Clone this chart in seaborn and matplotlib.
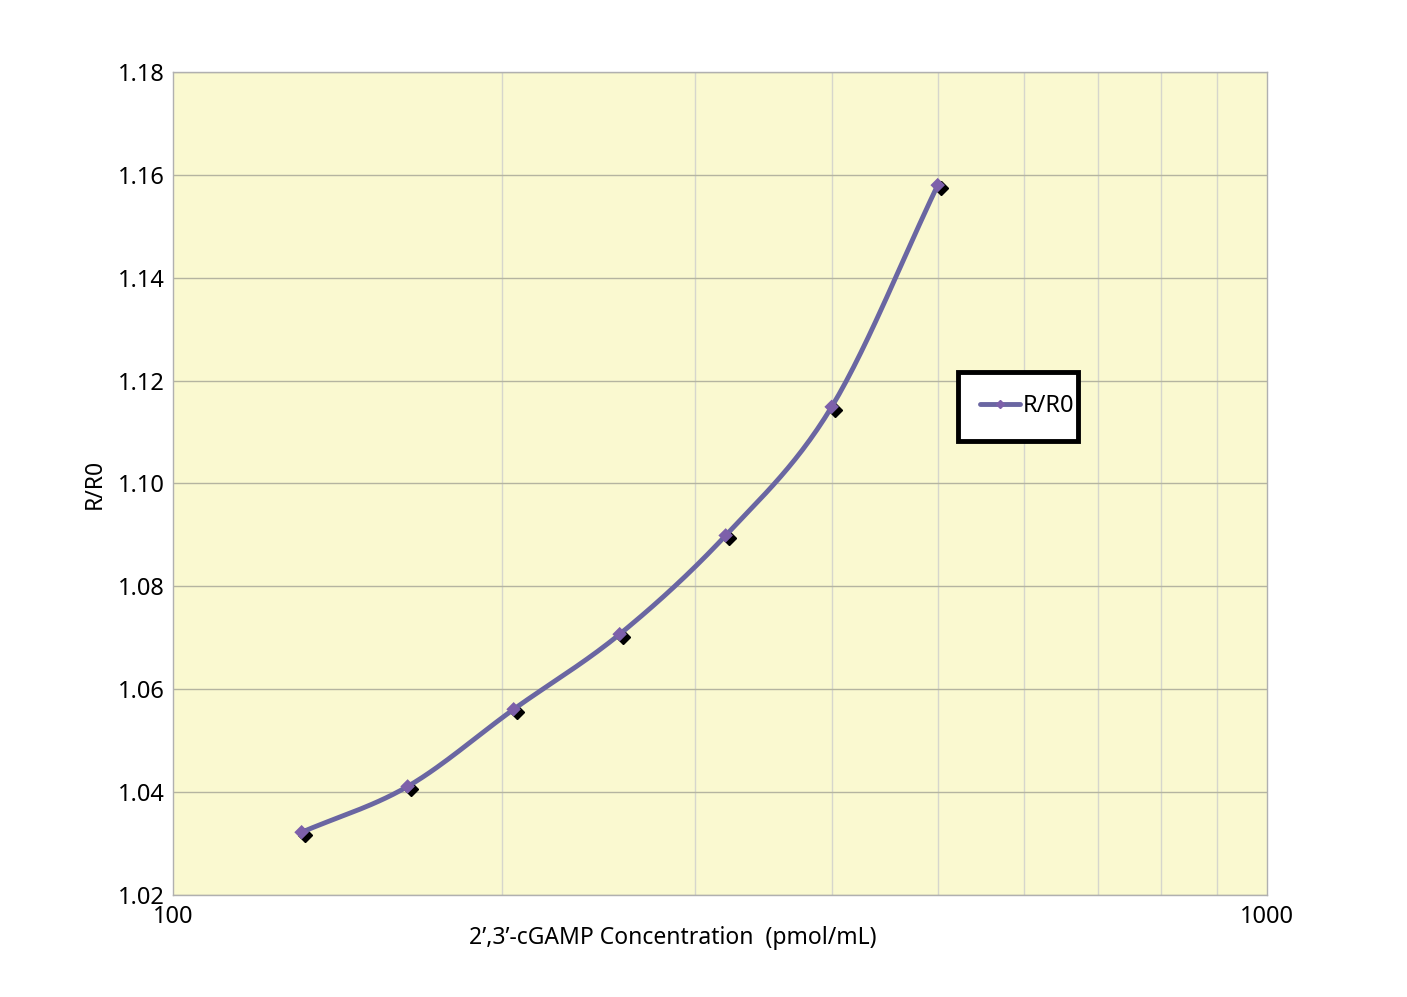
import numpy as np
import pandas as pd
import matplotlib
matplotlib.use("Agg")
import matplotlib.pyplot as plt
import matplotlib.ticker as mticker
import matplotlib.transforms as mtransforms
import matplotlib.patches as mpatches
import seaborn as sns
from matplotlib.lines import Line2D

concentration = [131.07, 163.84, 204.8, 256.0, 320.0, 400.0, 500.0]
ratio = [1.0322, 1.0411, 1.0561, 1.0707, 1.0899, 1.1149, 1.1580]
y_ticks = [1.02, 1.04, 1.06, 1.08, 1.10, 1.12, 1.14, 1.16, 1.18]
x_label = "2’,3’-cGAMP Concentration  (pmol/mL)"
y_label = "R/R0"
series_name = "R/R0"

df = pd.DataFrame({"conc": concentration, "ratio": ratio})

sns.set_theme(style="white")
plt.rcParams['font.family'] = ['Noto Sans', 'DejaVu Sans']
plt.rcParams['text.color'] = 'black'
plt.rcParams['axes.labelcolor'] = 'black'

fig = plt.figure(figsize=(14.07, 9.97), dpi=100)
ax = fig.add_axes([0.123, 0.1023, 0.7775, 0.8255])
ax.set_facecolor("#FAF9D0")

ax.set_xscale("log")
ax.set_xlim(100, 1000)
ax.set_ylim(1.02, 1.18)

# smooth curve (Catmull-Rom in log-x space) through the data points
lx = np.log10(df["conc"].values)
yy = df["ratio"].values
px = np.concatenate([[2 * lx[0] - lx[1]], lx, [2 * lx[-1] - lx[-2]]])
py = np.concatenate([[2 * yy[0] - yy[1]], yy, [2 * yy[-1] - yy[-2]]])
sx, sy = [], []
t = np.linspace(0, 1, 30)
for i in range(1, len(px) - 2):
    p0x, p1x, p2x, p3x = px[i - 1:i + 3]
    p0y, p1y, p2y, p3y = py[i - 1:i + 3]
    cx = 0.5 * ((2 * p1x) + (-p0x + p2x) * t + (2 * p0x - 5 * p1x + 4 * p2x - p3x) * t**2 + (-p0x + 3 * p1x - 3 * p2x + p3x) * t**3)
    cy = 0.5 * ((2 * p1y) + (-p0y + p2y) * t + (2 * p0y - 5 * p1y + 4 * p2y - p3y) * t**2 + (-p0y + 3 * p1y - 3 * p2y + p3y) * t**3)
    sx.extend(cx)
    sy.extend(cy)
smooth = pd.DataFrame({"conc": 10 ** np.array(sx), "ratio": sy})

# shadow markers
shadow = mtransforms.offset_copy(ax.transData, fig=fig, x=3, y=-3, units="dots")
ax.plot(df["conc"], df["ratio"], linestyle="none", marker="D", markersize=7,
        color="black", transform=shadow, zorder=3)
sns.lineplot(data=smooth, x="conc", y="ratio", ax=ax, color="#6A66A2",
             linewidth=3.5, sort=False, estimator=None, zorder=4)
sns.scatterplot(data=df, x="conc", y="ratio", ax=ax, marker="D", s=55,
                color="#7D60AA", edgecolor="none", zorder=5)

# grid
ax.yaxis.set_major_locator(mticker.FixedLocator(y_ticks))
ax.yaxis.set_major_formatter(mticker.FormatStrFormatter("%.2f"))
ax.xaxis.set_major_locator(mticker.FixedLocator([100, 1000]))
ax.xaxis.set_major_formatter(mticker.FormatStrFormatter("%d"))
ax.xaxis.set_minor_locator(mticker.LogLocator(base=10, subs=np.arange(2, 10)))
ax.xaxis.set_minor_formatter(mticker.NullFormatter())
ax.grid(axis="y", which="major", color="#B4B4A0", linewidth=1.0)
ax.grid(axis="x", which="minor", color="#D6D6CC", linewidth=1.0)
ax.set_axisbelow(True)

for s in ax.spines.values():
    s.set_color("#B0B0B0")
    s.set_linewidth(1.0)

ax.tick_params(axis="both", which="major", direction="out", length=5, width=1,
               color="#B0B0B0", labelsize=17, labelcolor="black", pad=1)
ax.tick_params(axis="x", which="minor", length=0)
ax.tick_params(axis="x", which="major", pad=2)

ax.set_xlabel(x_label, fontsize=16.5, color="black")
ax.xaxis.set_label_coords(0.457, -0.038, transform=ax.transAxes)
ax.xaxis.label.set_va("top")
ax.set_ylabel(y_label, fontsize=16.5, labelpad=8, color="black")

# legend box
box = mpatches.Rectangle((0.7175, 0.5516), 0.1097, 0.0839, transform=ax.transAxes,
                         facecolor="white", edgecolor="black", linewidth=3.5,
                         zorder=6)
ax.add_patch(box)
handle = Line2D([], [], color="#6A66A2", linewidth=3.5, marker="D", markersize=4,
                markerfacecolor="#7D60AA", markeredgecolor="#7D60AA")
leg = ax.legend([handle], [series_name], loc="center left", bbox_to_anchor=(0.7377, 0.594),
                fontsize=17, frameon=False, handlelength=1.7, labelcolor="black",
                handletextpad=0.1, borderpad=0, borderaxespad=0)
leg.set_zorder(7)

fig.savefig("out.png", dpi=100)
